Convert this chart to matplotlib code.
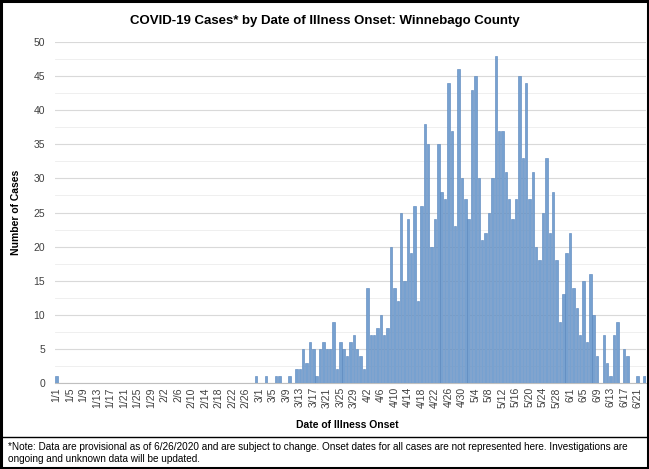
import datetime as dt
import matplotlib
matplotlib.use("Agg")
import matplotlib.pyplot as plt
from matplotlib.patches import Rectangle
from matplotlib.lines import Line2D

# =========================
# Data (cases per day, 1/1 .. 6/23/2020)
# =========================
jan = [1] + [0] * 30
feb = [0] * 28 + [1]
mar = [0, 0, 1, 0, 0, 1, 1, 0, 0, 1, 0, 2, 2, 5, 3, 6, 5, 1, 5, 6,
       5, 5, 9, 2, 6, 5, 4, 6, 7, 5, 4]
apr = [2, 14, 7, 7, 8, 10, 7, 8, 20, 14, 12, 25, 15, 24, 19, 26, 12, 26, 38, 35,
       20, 24, 35, 28, 27, 44, 37, 23, 46, 30]
may = [27, 24, 43, 45, 30, 21, 22, 25, 30, 48, 37, 37, 31, 27, 24, 27, 45, 33, 44, 27,
       31, 20, 18, 25, 33, 22, 28, 18, 9, 13, 19]
jun = [22, 14, 11, 7, 15, 6, 16, 10, 4, 0, 7, 3, 1, 7, 9, 0, 5, 4, 0, 0,
       1, 0, 1]

cases = jan + feb + mar + apr + may + jun
start = dt.date(2020, 1, 1)
dates = [start + dt.timedelta(days=i) for i in range(len(cases))]
date_labels = [f"{d.month}/{d.day}" for d in dates]

TITLE = "COVID-19 Cases* by Date of Illness Onset: Winnebago County"
NOTE = ("*Note: Data are provisional as of 6/26/2020 and are subject to change. "
        "Onset dates for all cases are not represented here. Investigations are\n"
        "ongoing and unknown data will be updated.")

plt.rcParams['font.family'] = ['Liberation Sans Narrow', 'Liberation Sans', 'DejaVu Sans']

# =========================
# Plot
# =========================
fig = plt.figure(figsize=(6.49, 4.69), dpi=100)
ax = fig.add_axes([0.0845, 0.1834, 0.911, 0.727])

x = list(range(len(cases)))
ax.bar(x, cases, width=0.72, color="#77a1d0", edgecolor="#5583bb", linewidth=0.4, zorder=3)

ax.set_xlim(-0.5, len(cases) - 0.5)
ax.set_ylim(0, 50)
ax.set_yticks(range(0, 51, 5))
ax.set_yticks([v + 2.5 for v in range(0, 50, 5)], minor=True)
ax.grid(axis="y", which="major", color="#d9d9d9", linewidth=0.8, zorder=0)
ax.grid(axis="y", which="minor", color="#ececec", linewidth=0.6, zorder=0)

tick_pos = x[::4]
ax.set_xticks(tick_pos)
ax.set_xticklabels([date_labels[i] for i in tick_pos], rotation=90, fontsize=7.5, color="#404040")
ax.tick_params(axis="x", length=0, pad=3)
ax.tick_params(axis="y", which="both", length=0, labelsize=7.5, labelcolor="#404040", pad=7)

for s in ["top", "right", "left"]:
    ax.spines[s].set_visible(False)
ax.spines["bottom"].set_color("#bfbfbf")

ax.set_ylabel("Number of Cases", fontsize=7.5, fontweight="bold", labelpad=9)
fig.text(0.535, 0.094, "Date of Illness Onset", ha="center", va="center",
         fontsize=7.5, fontweight="bold")
fig.text(0.5, 0.956, TITLE, ha="center", va="center", fontsize=9.5, fontweight="bold")
fig.text(0.012, 0.034, NOTE, ha="left", va="center", fontsize=7.2, linespacing=1.35)

# frame and note separator
fig.add_artist(Rectangle((0.002, 0.002), 0.996, 0.996, transform=fig.transFigure,
                         fill=False, edgecolor="black", linewidth=2.2))
fig.add_artist(Line2D([0, 1], [0.068, 0.068], transform=fig.transFigure,
                      color="black", linewidth=1))

fig.savefig("out.png", dpi=100)
plt.close(fig)
